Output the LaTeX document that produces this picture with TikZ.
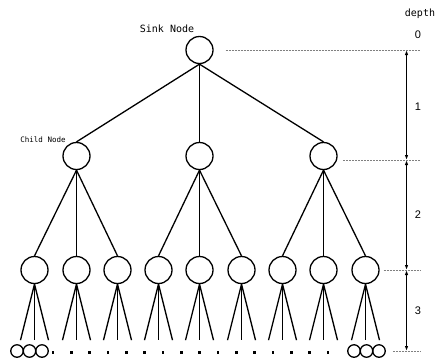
\documentclass[tikz,border=0pt]{standalone}
\usepackage{fontspec}
\setmainfont{Liberation Sans}
\newfontfamily\monofont{DejaVu Sans Mono}
\usetikzlibrary{positioning,arrows.meta}

\tikzset{
  treenode/.style={circle, draw=black, line width=1.3bp, minimum size=27bp, inner sep=0pt},
  leafnode/.style={circle, draw=black, line width=1.3bp, minimum size=12.5bp, inner sep=0pt},
  edge/.style={black, line width=1.3bp},
  levelline/.style={gray, line width=0.6bp, dash pattern=on 2bp off 1bp},
  levelarrow/.style={black, line width=1.1bp, {Latex[length=5bp,width=3.5bp]}-{Latex[length=5bp,width=3.5bp]}},
  labeltext/.style={font=\monofont\fontsize{10bp}{12bp}\selectfont, inner sep=0pt},
  depthtext/.style={font=\fontsize{11bp}{13bp}\selectfont, inner sep=0pt}
}

\begin{document}
\begin{tikzpicture}[x=1bp, y=-1bp]
\useasboundingbox (0,0) rectangle (437,361);

% root and first level
\node[treenode] (sink) at (199.5,50) {};
\node[treenode] (c1) at (76.5,156) {};
\node[treenode] (c2) at (199.5,156) {};
\node[treenode] (c3) at (323.5,156) {};
\node[labeltext] (sinklabel) at (167,29) {Sink Node};
\node[labeltext, font=\monofont\fontsize{7.5bp}{9bp}\selectfont] (childlabel) at (43,140) {Child Node};

\draw[edge] (sink.south) -- (c1.north);
\draw[edge] (sink.south) -- (c2.north);
\draw[edge] (sink.south) -- (c3.north);

% second level
\node[treenode] (g1) at (34.5,270) {};
\node[treenode] (g2) at (76.5,270) {};
\node[treenode] (g3) at (117.5,270) {};
\node[treenode] (g4) at (158.5,270) {};
\node[treenode] (g5) at (199.5,270) {};
\node[treenode] (g6) at (241.5,270) {};
\node[treenode] (g7) at (282.5,270) {};
\node[treenode] (g8) at (323.5,270) {};
\node[treenode] (g9) at (365.5,270) {};

\draw[edge] (c1.south) -- (g1.north);
\draw[edge] (c1.south) -- (g2.north);
\draw[edge] (c1.south) -- (g3.north);
\draw[edge] (c2.south) -- (g4.north);
\draw[edge] (c2.south) -- (g5.north);
\draw[edge] (c2.south) -- (g6.north);
\draw[edge] (c3.south) -- (g7.north);
\draw[edge] (c3.south) -- (g8.north);
\draw[edge] (c3.south) -- (g9.north);

% third level (open ends)
\foreach \g in {1,...,9} {
  \coordinate (e\g a) at ([xshift=-14bp,yshift=-56bp]g\g.south);
  \coordinate (e\g b) at ([yshift=-56bp]g\g.south);
  \coordinate (e\g c) at ([xshift=14bp,yshift=-56bp]g\g.south);
  \draw[edge] (g\g.south) -- (e\g a);
  \draw[edge] (g\g.south) -- (e\g b);
  \draw[edge] (g\g.south) -- (e\g c);
}

% leaves
\node[leafnode] (l1) at (17,351) {};
\node[leafnode] (l2) at (29.5,351) {};
\node[leafnode] (l3) at (42,351) {};
\node[leafnode] (r1) at (354,351) {};
\node[leafnode] (r2) at (366.5,351) {};
\node[leafnode] (r3) at (379,351) {};
\foreach \i in {0,...,15}
  \fill[black] ({53+18.33*\i-1.3},351) rectangle ++(2.6,2.6);

% depth scale
\coordinate (d0) at (406.5,50);
\coordinate (d1) at (406.5,160);
\coordinate (d2) at (406.5,270);
\coordinate (d3) at (406.5,351);
\coordinate (m0) at (420,50);
\coordinate (m1) at (420,160);
\coordinate (m2) at (420,270);
\coordinate (m3) at (420,351);
\draw[levelline] ([xshift=12bp]sink.east) -- (m0);
\draw[levelline] (343,160) -- (m1);
\draw[levelline] ([xshift=4bp]g9.east) -- (m2);
\draw[levelline] ([xshift=7bp]r3.east) -- (m3);
\draw[levelarrow] (d0) -- (d1);
\draw[levelarrow] (d1) -- (d2);
\draw[levelarrow] (d2) -- (d3);

\node[labeltext] (depthlabel) at (420,14) {depth};
\node[depthtext] (n0) at (418,35) {0};
\node[depthtext] (n1) at (418,107) {1};
\node[depthtext] (n2) at (418,215) {2};
\node[depthtext] (n3) at (418,311) {3};
\end{tikzpicture}
\end{document}
